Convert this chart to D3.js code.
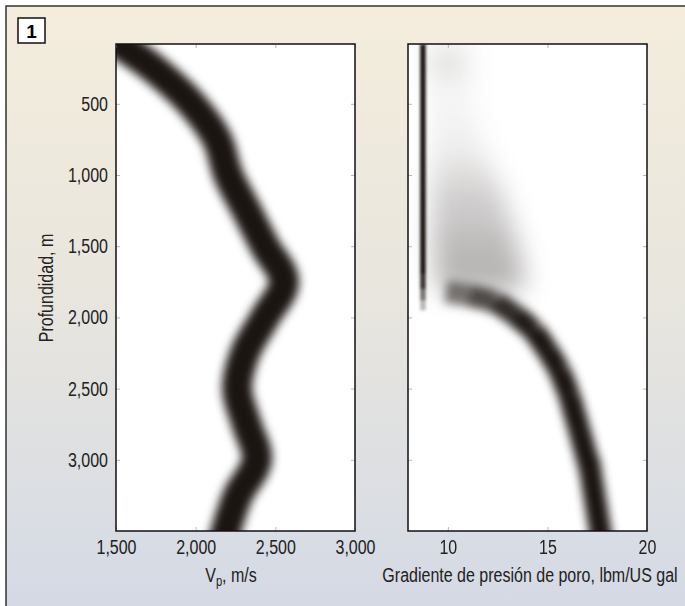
<!DOCTYPE html>
<html>
<head>
<meta charset="utf-8">
<script src="https://cdn.jsdelivr.net/npm/d3@7"></script>
<style>
body { margin: 0; }
svg { display: block; font-family: 'Liberation Sans', Arial, sans-serif; }
</style>
</head>
<body>
<svg id="chart"></svg>
<script>
// tick values
const depthTicks = [500, 1000, 1500, 2000, 2500, 3000];
const vpTicks = [1500, 2000, 2500, 3000];
const gradTicks = [10, 15, 20];

// Vp band centreline (m, m/s)
const vpDepth = [80, 260, 500, 750, 1000, 1250, 1500, 1750, 2000, 2250, 2500, 2750, 3000, 3250, 3500];
const vpValue = [1520, 1745, 1975, 2135, 2205, 2320, 2435, 2555, 2435, 2310, 2260, 2320, 2385, 2265, 2190];

// hydrostatic gradient line
const hydroDepth = [80, 1700, 1800, 1880, 1950];
const hydroValue = [8.75, 8.75, 8.75, 8.75, 8.75];
const hydroShade = [1, 1, 0.75, 0.45, 0.15];

// faint grey cloud above the transition
const cloudDepth = [80, 330, 615, 895, 1105, 1385, 1665, 1810];
const cloudLow = [8.9, 9.0, 9.1, 9.2, 9.2, 9.2, 9.35, 9.5];
const cloudHigh = [11.0, 11.1, 11.4, 12.0, 12.7, 13.3, 13.8, 13.8];
const cloudShade = [0.2, 0.06, 0.04, 0.12, 0.22, 0.3, 0.38, 0.42];

// overpressure band
const ppDepth = [1820, 1845, 1890, 1985, 2090, 2230, 2370, 2545, 2790, 3070, 3500];
const ppValue = [9.9, 11.1, 12.4, 13.4, 14.3, 15.0, 15.6, 16.1, 16.6, 17.15, 17.65];
const ppShade = [0.45, 0.65, 0.85, 0.95, 1, 1, 1, 1, 1, 1, 1];

const width = 685;
const height = 606;
const squeeze = 0.8;   // condensed type

const svg = d3.select('#chart')
	.attr('width', width)
	.attr('height', height);

const defs = svg.append('defs');

const bg = defs.append('linearGradient')
	.attr('id', 'bg')
	.attr('x1', 0).attr('y1', 0).attr('x2', 0).attr('y2', 1);
bg.append('stop').attr('offset', '0%').attr('stop-color', '#f4eddc');
bg.append('stop').attr('offset', '45%').attr('stop-color', '#e9e6de');
bg.append('stop').attr('offset', '100%').attr('stop-color', '#d3d9e5');

const addBlur = (id, sd) => {
	defs.append('filter')
		.attr('id', id)
		.attr('filterUnits', 'userSpaceOnUse')
		.attr('x', 0).attr('y', 0)
		.attr('width', width).attr('height', height)
		.attr('color-interpolation-filters', 'sRGB')
		.append('feGaussianBlur')
		.attr('stdDeviation', sd);
};
addBlur('blurBand', 5);
addBlur('blurThin', 1.5);
addBlur('blurCloud', 13);

svg.append('rect')
	.attr('x', 6).attr('y', 6)
	.attr('width', width + 10).attr('height', height + 10)
	.attr('fill', 'url(#bg)')
	.attr('stroke', '#333')
	.attr('stroke-width', 1.5);

// figure number
svg.append('rect')
	.attr('x', 18).attr('y', 18)
	.attr('width', 27).attr('height', 25)
	.attr('fill', '#fff')
	.attr('stroke', '#111')
	.attr('stroke-width', 1.5);
svg.append('text')
	.attr('x', 31.5).attr('y', 37.5)
	.attr('text-anchor', 'middle')
	.style('font-weight', 'bold')
	.style('font-size', '19px')
	.text('1');

const plotTop = 44;
const plotBottom = 531;

const y = d3.scaleLinear()
	.domain([80, 3500])
	.range([plotTop, plotBottom]);

const xVp = d3.scaleLinear()
	.domain([1500, 3000])
	.range([116, 355]);

const xPp = d3.scaleLinear()
	.domain([8, 20])
	.range([408, 647]);

const panel = (x, id) => {
	const [x0, x1] = x.range();
	svg.append('rect')
		.attr('x', x0).attr('y', plotTop)
		.attr('width', x1 - x0).attr('height', plotBottom - plotTop)
		.attr('fill', '#fff');
	defs.append('clipPath')
		.attr('id', id)
		.append('rect')
		.attr('x', x0).attr('y', plotTop)
		.attr('width', x1 - x0).attr('height', plotBottom - plotTop);
	return svg.append('g').attr('clip-path', `url(#${id})`);
};

const frame = (x, xTicks) => {
	const [x0, x1] = x.range();
	const tickColor = '#b8b8b8';
	const inner = [
		svg.append('g').attr('transform', `translate(${x0},0)`)
			.call(d3.axisLeft(y).tickValues(depthTicks).tickSize(-4).tickFormat('')),
		svg.append('g').attr('transform', `translate(${x1},0)`)
			.call(d3.axisRight(y).tickValues(depthTicks).tickSize(-4).tickFormat('')),
		svg.append('g').attr('transform', `translate(0,${plotTop})`)
			.call(d3.axisTop(x).tickValues(xTicks).tickSize(-4).tickFormat('')),
		svg.append('g').attr('transform', `translate(0,${plotBottom})`)
			.call(d3.axisBottom(x).tickValues(xTicks).tickSize(-4).tickFormat(''))
	];
	inner.forEach(g => {
		g.select('.domain').remove();
		g.selectAll('line').attr('stroke', tickColor);
	});
	svg.append('rect')
		.attr('x', x0).attr('y', plotTop)
		.attr('width', x1 - x0).attr('height', plotBottom - plotTop)
		.attr('fill', 'none')
		.attr('stroke', '#111')
		.attr('stroke-width', 1.5);
};

// narrow the glyphs so that Liberation Sans looks condensed
const condense = sel => sel.each(function() {
	const len = this.getComputedTextLength();
	d3.select(this)
		.attr('textLength', len * squeeze)
		.attr('lengthAdjust', 'spacingAndGlyphs');
});

const styleLabels = g => {
	g.select('.domain').remove();
	g.selectAll('text')
		.attr('fill', '#222')
		.style('font-size', '20px')
		.style('font-family', "'Liberation Sans', Arial, sans-serif")
		.call(condense);
};

// ---- left panel: Vp
const gVp = panel(xVp, 'clipVp');

const vpLine = d3.line()
	.x(i => xVp(vpValue[i]))
	.y(i => y(vpDepth[i]))
	.curve(d3.curveCatmullRom);

gVp.append('g')
	.attr('filter', 'url(#blurBand)')
	.append('path')
	.attr('d', vpLine(d3.range(vpDepth.length)))
	.attr('fill', 'none')
	.attr('stroke', '#1b1512')
	.attr('stroke-width', 30)
	.attr('stroke-linecap', 'square')
	.attr('stroke-linejoin', 'round');

frame(xVp, vpTicks);

svg.append('g')
	.attr('transform', `translate(116,0)`)
	.call(d3.axisLeft(y).tickValues(depthTicks).tickSize(0).tickPadding(8).tickFormat(d3.format(',')))
	.call(styleLabels);

svg.append('g')
	.attr('transform', `translate(0,${plotBottom})`)
	.call(d3.axisBottom(xVp).tickValues(vpTicks).tickSize(0).tickPadding(9).tickFormat(d3.format(',')))
	.call(styleLabels);

// ---- right panel: pore pressure gradient
const gPp = panel(xPp, 'clipPp');

const cloudG = gPp.append('g').attr('filter', 'url(#blurCloud)');
d3.range(cloudDepth.length - 1).forEach(i => {
	const area = d3.area()
		.y(j => y(cloudDepth[j]))
		.x0(j => xPp(cloudLow[j]))
		.x1(j => xPp(cloudHigh[j]));
	cloudG.append('path')
		.attr('d', area([i, i + 1]))
		.attr('fill', '#3a3432')
		.attr('opacity', (cloudShade[i] + cloudShade[i + 1]) / 2);
});

const hydroG = gPp.append('g').attr('filter', 'url(#blurThin)');
d3.range(hydroDepth.length - 1).forEach(i => {
	hydroG.append('path')
		.attr('d', d3.line()
			.x(j => xPp(hydroValue[j]))
			.y(j => y(hydroDepth[j]))([i, i + 1]))
		.attr('fill', 'none')
		.attr('stroke', '#1b1512')
		.attr('stroke-width', 5.5)
		.attr('opacity', (hydroShade[i] + hydroShade[i + 1]) / 2);
});

const ppG = gPp.append('g').attr('filter', 'url(#blurBand)');
d3.range(ppDepth.length - 1).forEach(i => {
	ppG.append('path')
		.attr('d', d3.line()
			.x(j => xPp(ppValue[j]))
			.y(j => y(ppDepth[j]))([i, i + 1]))
		.attr('fill', 'none')
		.attr('stroke', '#1b1512')
		.attr('stroke-width', 22)
		.attr('stroke-linecap', i === ppDepth.length - 2 ? 'square' : 'butt')
		.attr('opacity', (ppShade[i] + ppShade[i + 1]) / 2);
});

frame(xPp, gradTicks);

svg.append('g')
	.attr('transform', `translate(0,${plotBottom})`)
	.call(d3.axisBottom(xPp).tickValues(gradTicks).tickSize(0).tickPadding(9))
	.call(styleLabels);

// ---- axis titles
svg.append('text')
	.attr('transform', `translate(53,288) rotate(-90) scale(${squeeze},1)`)
	.attr('text-anchor', 'middle')
	.attr('fill', '#222')
	.style('font-size', '20px')
	.text('Profundidad, m');

const vpTitle = svg.append('text')
	.attr('transform', `translate(231,582) scale(${squeeze},1)`)
	.attr('text-anchor', 'middle')
	.attr('fill', '#222')
	.style('font-size', '20px');
vpTitle.append('tspan').text('V');
vpTitle.append('tspan').attr('dy', 4).style('font-size', '14px').text('p');
vpTitle.append('tspan').attr('dy', -4).text(', m/s');

svg.append('text')
	.attr('transform', `translate(530,582) scale(${squeeze},1)`)
	.attr('text-anchor', 'middle')
	.attr('fill', '#222')
	.style('font-size', '20px')
	.text('Gradiente de presión de poro, lbm/US gal');
</script>
</body>
</html>
